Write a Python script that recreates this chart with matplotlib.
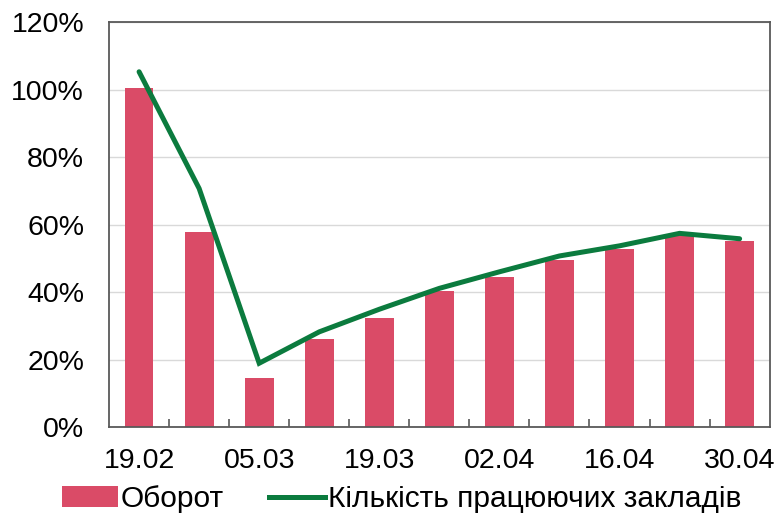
import matplotlib
matplotlib.use("Agg")
import matplotlib.pyplot as plt
from matplotlib.ticker import FixedLocator, PercentFormatter
from matplotlib.patches import Patch
from matplotlib.lines import Line2D

categories = ["19.02", "26.02", "05.03", "12.03", "19.03", "26.03",
              "02.04", "09.04", "16.04", "23.04", "30.04"]
turnover = [100.5, 57.7, 14.4, 26.0, 32.4, 40.3, 44.6, 49.6, 52.8, 56.8, 55.2]
working = [105.3, 70.7, 18.9, 28.2, 34.9, 41.1, 46.0, 50.7, 53.7, 57.4, 55.8]
yticks = [0, 20, 40, 60, 80, 100, 120]

plt.rcParams['font.family'] = ['Liberation Sans', 'DejaVu Sans']

bar_color = "#DA4B67"
line_color = "#0B7B3E"

fig = plt.figure(figsize=(7.79, 5.16), dpi=100)
ax = fig.add_axes([0.140, 0.1725, 0.848, 0.7845])

x = list(range(len(categories)))
ax.bar(x, turnover, width=0.48, color=bar_color, zorder=2)
ax.plot(x, working, color=line_color, linewidth=3.6, zorder=3,
        solid_capstyle='round', solid_joinstyle='miter')

ax.set_xlim(-0.5, len(categories) - 0.5)
ax.set_ylim(0, 120)
ax.set_yticks(yticks)
ax.yaxis.set_major_formatter(PercentFormatter(decimals=0))
ax.grid(axis='y', color='#D9D9D9', linewidth=1.0, zorder=0)
ax.set_axisbelow(True)

ax.set_xticks(x[::2])
ax.set_xticklabels(categories[::2])
ax.xaxis.set_minor_locator(FixedLocator([i + 0.5 for i in range(len(categories) - 1)]))
ax.tick_params(axis='x', which='major', length=0, pad=15, labelsize=20.5)
ax.tick_params(axis='x', which='minor', direction='in', length=6, width=1.2, color='#595959')
ax.tick_params(axis='y', which='major', length=0, pad=18, labelsize=20.5)

for s in ax.spines.values():
    s.set_color('#595959')
    s.set_linewidth(1.3)

handles = [Patch(facecolor=bar_color, edgecolor='none'),
           Line2D([0], [0], color=line_color, linewidth=3.6)]
fig.legend(handles, ["Оборот", "Кількість працюючих закладів"],
           loc='lower left', bbox_to_anchor=(0.076, 0.0), ncol=2, frameon=False,
           fontsize=21.5, handlelength=1.87, handleheight=0.67, handletextpad=0.1,
           columnspacing=1.5, borderaxespad=0, borderpad=0.1)

fig.savefig("out.png", dpi=100)
